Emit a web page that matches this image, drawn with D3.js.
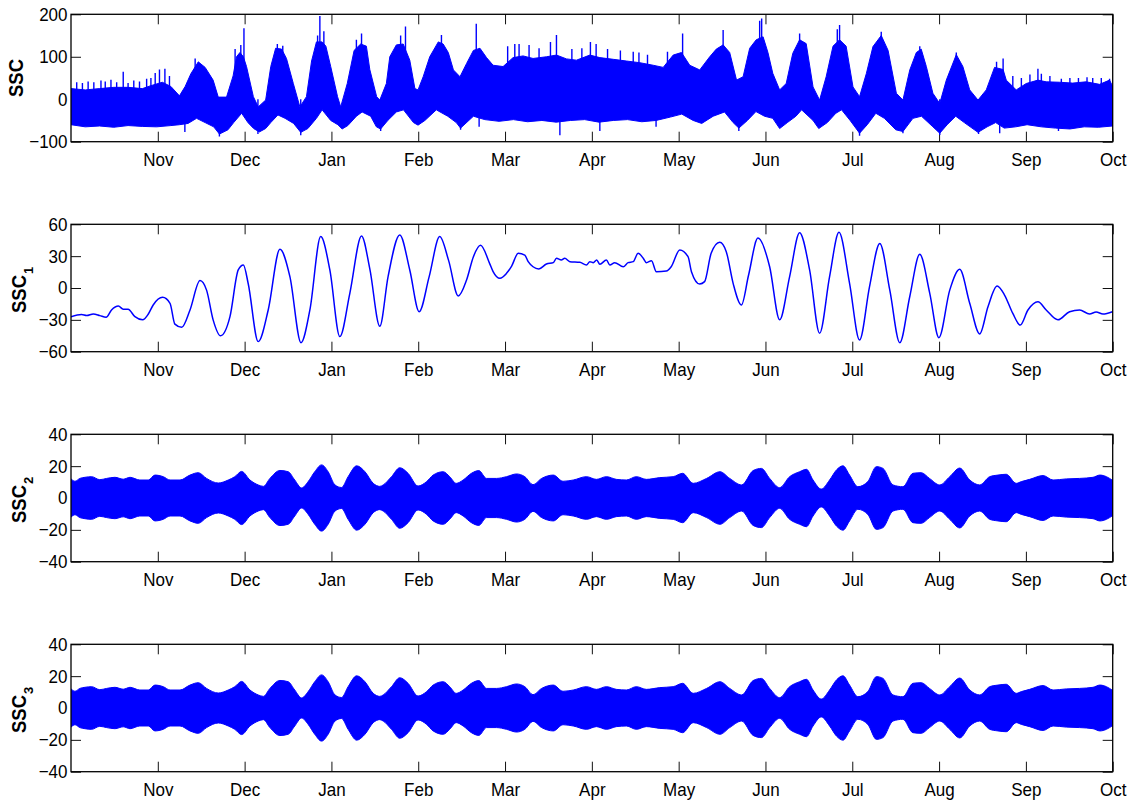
<!DOCTYPE html>
<html>
<head>
<meta charset="utf-8">
<script src="https://cdn.jsdelivr.net/npm/d3@7"></script>
<style>
  body { margin: 0; background: #fff; }
  svg text { font-family: "Liberation Sans", Arial, Helvetica, sans-serif; }
</style>
</head>
<body>
<svg id="chart" width="1137" height="802"></svg>
<script>
// Month labels for the tick marks (one per month boundary after the start in October)
const monthLabels = ["Nov", "Dec", "Jan", "Feb", "Mar", "Apr", "May", "Jun", "Jul", "Aug", "Sep", "Oct"];

// Y tick values for each panel
const sscTicks = [-100, 0, 100, 200];
const ssc1Ticks = [-60, -30, 0, 30, 60];
const ssc2Ticks = [-40, -20, 0, 20, 40];
const ssc3Ticks = [-40, -20, 0, 20, 40];

// ssc: raw series, drawn as its upper / lower envelope [day since 1 Oct, value]
const sscUpper = [[0,25],[5,22],[10,25],[15,28],[20,28],[25,25],[28,32],[32,40],[35,30],[38,8],[40,30],[42,60],[44.6,88],[47,75],[49.8,45],[51.6,5],[54.5,5],[56.8,55],[58,100],[59.2,110],[60.4,100],[61.5,77],[63.9,6],[65.6,-18],[68.2,-2],[70,77],[71.7,120],[73.8,118],[75.5,96],[77.9,37],[80.2,-18],[82.5,6],[84.3,90],[86,135],[88,135],[89.3,125],[91,77],[93.4,6],[94.5,-18],[96.8,37],[99.2,115],[101.5,130],[103.5,125],[104.7,70],[107.1,6],[108.2,-2],[110.5,37],[111.7,100],[114,128],[116.4,130],[118.7,92],[120.5,25],[121.6,22],[123.4,53],[125.7,100],[128.7,135],[130.4,130],[132.2,110],[134,69],[136.3,53],[138.6,84],[141,115],[143.3,120],[145.6,98],[147.9,80],[151.4,77],[154.9,98],[158.4,102],[161.9,96],[166.6,100],[170.1,104],[173.6,95],[177.1,92],[181.8,104],[185.3,98],[190,94],[194.6,90],[199.3,86],[204,80],[207.5,75],[211,104],[213.9,110],[216.8,80],[220.3,69],[223.8,100],[226.1,118],[228.5,128],[230.8,110],[233.2,45],[235.5,53],[237.8,120],[240.1,140],[242.5,147],[244.2,110],[245.9,61],[248.3,22],[250.6,37],[252.9,108],[255.3,140],[257.6,131],[260,29],[262.3,-2],[264.6,53],[267,125],[269.3,140],[271.6,125],[274,29],[276.3,6],[278.7,61],[281,124],[283.9,150],[286.3,115],[289.2,14],[291.5,-2],[293.9,69],[296.2,110],[297.9,118],[299.7,77],[302,14],[304.4,-10],[306.7,45],[310.2,105],[312.5,77],[314.9,22],[317.8,-2],[320.7,22],[323.6,75],[326.6,70],[327.7,45],[331.2,22],[334.7,37],[338.8,45],[341.7,41],[346.4,40],[351,38],[355.7,41],[360.4,35],[363.9,45],[365,30]];
const sscLower = [[0,-60],[5,-65],[10,-63],[15,-66],[20,-62],[25,-64],[30,-65],[35,-62],[38,-60],[41,-57],[44,-45],[47,-55],[50,-65],[52,-82],[55,-72],[57,-55],[59.8,-33],[62,-55],[64,-69],[66,-77],[68.2,-69],[70,-55],[72.5,-37],[75,-45],[78,-57],[80.5,-78],[83,-69],[86,-45],[88,-25],[91,-50],[93.5,-60],[95,-70],[97,-62],[100,-40],[102,-30],[105,-40],[107,-65],[108.5,-70],[111,-50],[114,-30],[116.5,-25],[120,-55],[121.6,-61],[124,-50],[128,-25],[132,-40],[135,-55],[136.5,-68],[141,-40],[145,-48],[150,-52],[155,-48],[160,-53],[165,-50],[170,-54],[175,-50],[180,-48],[185,-54],[190,-50],[195,-48],[200,-53],[205,-50],[210,-42],[214,-35],[218,-50],[221,-57],[225,-40],[229,-30],[232,-55],[234,-68],[237,-50],[240,-29],[243,-40],[245.9,-45],[248.3,-69],[251,-55],[254,-40],[256,-25],[260,-50],[262,-69],[265,-55],[268,-33],[270,-25],[273,-50],[276.3,-80],[279,-60],[282,-33],[285,-45],[289,-72],[291.5,-76],[295,-45],[298,-40],[302,-65],[304.4,-80],[307,-60],[310,-40],[313,-55],[317.8,-78],[321,-65],[324,-55],[327,-68],[331,-65],[335,-60],[340,-65],[345,-68],[350,-70],[355,-65],[360,-66],[365,-63]];
// isolated extreme samples of ssc that stick out of the envelope
const sscSpikes = [[2,40],[4,38],[6,42],[8,40],[10.5,44],[12,42],[14,46],[16,40],[18.3,65],[20,38],[22,44],[24,42],[26.5,48],[28,50],[29.5,62],[31,70],[32.9,72],[34.5,55],[43.5,96],[57.5,118],[59.5,128],[60.6,167],[72.3,130],[74.2,126],[86.4,150],[87.2,196],[88.6,160],[100,140],[101.8,155],[115.5,150],[117.2,171],[129.8,151],[142,178],[153,125],[155.5,130],[157,130],[160.5,128],[164,120],[168,135],[170.1,151],[175.5,118],[179,120],[182,135],[184,130],[188,118],[192.5,115],[197,112],[199,110],[202,105],[209,112],[214.3,155],[228.5,163],[241.3,185],[242,190],[255.3,155],[268.5,165],[269.3,175],[283.9,159],[297.4,125],[310.2,110],[324.3,88],[326.6,96],[330,55],[333,50],[336,58],[338.8,72],[340,60],[343,55],[347,48],[350,50],[353,50],[356,52],[358,50],[361,50],[363.9,48],[39.9,-77],[52,-88],[65.5,-82],[80.5,-85],[108.5,-75],[136.5,-72],[143,-65],[171.3,-85],[185.3,-75],[205,-65],[234,-75],[276.3,-86],[291.5,-80],[304.4,-84],[318,-82],[325.4,-80],[346,-75]];

// ssc1: low-frequency component [day since 1 Oct, value]
const ssc1 = [[0,-27],[3.7,-25],[5.5,-26],[7.8,-24.5],[10.1,-26],[12.3,-27.6],[14.2,-20.7],[16.6,-17],[18.3,-20],[20,-20],[22.4,-27],[25.1,-30],[27.1,-24.5],[28.8,-16],[32.1,-8.8],[34.7,-14.4],[36.4,-34],[38.8,-37],[41.7,-20.7],[45.2,7],[47.5,-2],[49.8,-30],[52.4,-45],[55.7,-27],[58.6,17],[60.4,21.7],[62.1,4],[65.6,-50.5],[69.1,-20.7],[73.2,36.4],[76.7,10.7],[80.6,-51.5],[83.7,-20.7],[87.5,48.4],[90.7,17],[94.2,-45.8],[97.7,-5],[101.8,49],[104.7,18],[108.2,-36],[111.1,10.7],[115.2,50],[118.7,17],[122,-22.3],[125.5,10.7],[129.2,48.4],[132.3,26],[135.7,-7.5],[138.6,7.5],[141,29.5],[143.5,40.2],[146.7,23],[147.9,15.4],[150.3,9.1],[152.6,13.8],[154.4,20.7],[156.7,32.7],[159,31],[160.2,24.8],[161.9,20],[163.9,17.9],[166.6,22.6],[169,23.9],[170.1,28],[171.8,26.4],[173,28],[174.8,24.8],[178.3,24.2],[180.6,21.7],[181.8,24.8],[183,23.9],[184.2,26.4],[185.3,22.3],[187.6,26.4],[188.8,21.7],[190.5,23.9],[193.5,20],[195.2,23.9],[197,24.8],[198.7,32.7],[200.5,28],[201.6,23.9],[203.4,25.7],[205.1,15.4],[208.6,16],[210.3,20],[213.3,35.8],[216.2,29.5],[217.4,15.4],[220.3,3.8],[222,6],[224.3,32.7],[227.3,43],[229.6,34.2],[232,4.4],[234.9,-16],[237.4,12],[240.7,47],[244.8,20],[248.3,-30],[251.8,10.7],[255.3,52],[258.8,17],[262.3,-42.7],[265.8,10.7],[269.1,52.4],[272.8,4.4],[276.3,-49],[279.8,1.3],[283.4,42],[286.9,-2],[290.4,-51.5],[293.9,-8],[297.4,31.7],[300.9,-5],[304.1,-46.8],[307.9,-2],[311.4,17.6],[314.9,-14.4],[318.4,-43.3],[321.3,-17.6],[324.5,1.9],[327.1,-6.6],[330,-23.9],[332.6,-34.9],[335.3,-20.7],[338.8,-12.9],[341.7,-20.7],[345.8,-30],[349.9,-22.3],[353.4,-20.7],[356.9,-24.5],[359.2,-22.6],[361.6,-24.5],[364.9,-22.3]];

// ssc2 / ssc3: fast oscillating components, given as their amplitude envelope [day, amplitude]
const ssc2Envelope = [[0,12],[1.4,10.5],[3.1,12.3],[4.9,13],[7.2,13.4],[10.1,11.5],[12.5,12.3],[15.4,13],[18.3,11.8],[20.7,13],[24.1,11.3],[27.1,11.3],[29.4,14.4],[32.3,13.4],[34.7,11.3],[38.2,11.3],[41.7,14.4],[44.6,15.9],[47.5,12.3],[51.6,9.4],[55.1,11.3],[57.4,13.4],[59.8,16.7],[62.7,11.3],[65.6,8.2],[67.4,7.3],[69.7,12.3],[73.2,17.3],[76.1,16.5],[78.4,11.3],[80.8,6.3],[83.1,10.3],[85.4,16.5],[87.8,20.8],[90.1,16.5],[92.5,8.2],[94.8,6.6],[97.1,13.4],[100.1,20.2],[103,16.5],[105.9,9.2],[108.2,7.3],[109.4,8.2],[112.3,13.4],[115.2,19],[118.1,15.5],[121.6,7.5],[124.6,10.3],[126.9,14.4],[130.4,16.5],[132.7,13.4],[135,9.2],[137.4,11.3],[140.3,15.5],[142.9,17.2],[145.6,12.3],[149.1,12.3],[152.6,13.4],[156.1,15.1],[159,13.4],[161.9,8.4],[164.9,12.3],[169,14.4],[172.4,10.5],[176,11.3],[180.6,13.4],[184.1,11.7],[187.6,13.4],[191.1,11.7],[194.6,11.3],[198.1,13.4],[201.6,11.7],[206.3,12.8],[211,13.4],[214.3,15.5],[218,9.2],[222.7,12.3],[227.4,16.5],[230.8,12.3],[235,8.2],[239,17.2],[241.9,18.6],[244.8,12.3],[248.3,6.5],[251.8,13.4],[255.3,16.5],[257.7,18],[260,11.3],[262.9,5.6],[265.8,11.3],[268.2,17.6],[270.5,20.2],[272.8,14.4],[275.7,7.1],[279.2,10.3],[282.2,19.7],[284.5,18.6],[288,8.2],[291.5,7.1],[295,15.5],[297.9,15.9],[300.8,12.3],[304.4,8.2],[307.9,13.4],[311.4,18.8],[314.9,11.3],[318.4,8.2],[321.9,13.4],[324.8,14.4],[327.7,14.9],[331.2,9.2],[333,10.3],[335.9,11.7],[340.6,14.1],[344.1,11.3],[348.8,12],[353.4,12.3],[358.1,13],[360.5,14.4],[362.8,13.4],[365,11]];
const ssc3Envelope = [[0,12],[1.4,10.5],[3.1,12.3],[4.9,13],[7.2,13.4],[10.1,11.5],[12.5,12.3],[15.4,13],[18.3,11.8],[20.7,13],[24.1,11.3],[27.1,11.3],[29.4,14.4],[32.3,13.4],[34.7,11.3],[38.2,11.3],[41.7,14.4],[44.6,15.9],[47.5,12.3],[51.6,9.4],[55.1,11.3],[57.4,13.4],[59.8,16.7],[62.7,11.3],[65.6,8.2],[67.4,7.3],[69.7,12.3],[73.2,17.3],[76.1,16.5],[78.4,11.3],[80.8,6.3],[83.1,10.3],[85.4,16.5],[87.8,20.8],[90.1,16.5],[92.5,8.2],[94.8,6.6],[97.1,13.4],[100.1,20.2],[103,16.5],[105.9,9.2],[108.2,7.3],[109.4,8.2],[112.3,13.4],[115.2,19],[118.1,15.5],[121.6,7.5],[124.6,10.3],[126.9,14.4],[130.4,16.5],[132.7,13.4],[135,9.2],[137.4,11.3],[140.3,15.5],[142.9,17.2],[145.6,12.3],[149.1,12.3],[152.6,13.4],[156.1,15.1],[159,13.4],[161.9,8.4],[164.9,12.3],[169,14.4],[172.4,10.5],[176,11.3],[180.6,13.4],[184.1,11.7],[187.6,13.4],[191.1,11.7],[194.6,11.3],[198.1,13.4],[201.6,11.7],[206.3,12.8],[211,13.4],[214.3,15.5],[218,9.2],[222.7,12.3],[227.4,16.5],[230.8,12.3],[235,8.2],[239,17.2],[241.9,18.6],[244.8,12.3],[248.3,6.5],[251.8,13.4],[255.3,16.5],[257.7,18],[260,11.3],[262.9,5.6],[265.8,11.3],[268.2,17.6],[270.5,20.2],[272.8,14.4],[275.7,7.1],[279.2,10.3],[282.2,19.7],[284.5,18.6],[288,8.2],[291.5,7.1],[295,15.5],[297.9,15.9],[300.8,12.3],[304.4,8.2],[307.9,13.4],[311.4,18.8],[314.9,11.3],[318.4,8.2],[321.9,13.4],[324.8,14.4],[327.7,14.9],[331.2,9.2],[333,10.3],[335.9,11.7],[340.6,14.1],[344.1,11.3],[348.8,12],[353.4,12.3],[358.1,13],[360.5,14.4],[362.8,13.4],[365,11]];

// ---------- layout ----------
const plotLeft = 71, plotRight = 1112.7;
const plotH = 127.4, firstTop = 14.3, panelStep = 210;
const blue = "#0000ff";
const baseFont = 17, tallFont = 18.5;   // tick labels: tall glyphs at the width of the base size

const svg = d3.select("#chart");
const x = d3.scaleLinear().domain([0, 365]).range([plotLeft, plotRight]);
const monthPos = d3.range(1, 13).map(m => m * 365 / 12);
const fmtY = d => d < 0 ? "\u2212" + Math.abs(d) : String(d);

const panels = [
  { domain: [-100, 200], ticks: sscTicks,  label: "SSC", sub: null, labelX: 23,   shift: 0 },
  { domain: [-60, 60],   ticks: ssc1Ticks, label: "SSC", sub: "1",  labelX: 25.5, shift: 6 },
  { domain: [-40, 40],   ticks: ssc2Ticks, label: "SSC", sub: "2",  labelX: 25.5, shift: 6 },
  { domain: [-40, 40],   ticks: ssc3Ticks, label: "SSC", sub: "3",  labelX: 25.5, shift: 6 }
];

const styleAxis = sel => {
  sel.attr("font-size", baseFont).attr("font-family", null);
  sel.select(".domain").remove();
  sel.selectAll(".tick line").attr("stroke", "#111").attr("stroke-width", 1);
  sel.selectAll(".tick text").attr("fill", "#000").each(function () {
    const w = this.getComputedTextLength();
    if (w > 0) {
      d3.select(this).attr("font-size", tallFont)
        .attr("textLength", w).attr("lengthAdjust", "spacingAndGlyphs");
    }
  });
};

panels.forEach((p, i) => {
  const top = firstTop + i * panelStep;
  const bottom = top + plotH;
  const y = d3.scaleLinear().domain(p.domain).range([bottom, top]);
  const g = svg.append("g");

  // inward ticks on all four sides, labels on bottom and left only
  g.append("g").attr("transform", `translate(0,${bottom})`)
    .call(d3.axisBottom(x).tickValues(monthPos).tickFormat((d, k) => monthLabels[k])
      .tickSizeInner(-10).tickSizeOuter(0).tickPadding(11))
    .call(styleAxis);
  g.append("g").attr("transform", `translate(0,${top})`)
    .call(d3.axisTop(x).tickValues(monthPos).tickFormat("")
      .tickSizeInner(-10).tickSizeOuter(0))
    .call(styleAxis);
  g.append("g").attr("transform", `translate(${plotLeft},0)`)
    .call(d3.axisLeft(y).tickValues(p.ticks).tickFormat(fmtY)
      .tickSizeInner(-10).tickSizeOuter(0).tickPadding(3.5))
    .call(styleAxis);
  g.append("g").attr("transform", `translate(${plotRight},0)`)
    .call(d3.axisRight(y).tickValues(p.ticks).tickFormat("")
      .tickSizeInner(-10).tickSizeOuter(0))
    .call(styleAxis);

  // clip region for the data
  const clipId = "clip" + i;
  svg.append("clipPath").attr("id", clipId)
    .append("rect").attr("x", plotLeft).attr("y", top)
    .attr("width", plotRight - plotLeft).attr("height", plotH);
  const data = g.append("g").attr("clip-path", `url(#${clipId})`);

  if (i === 0) {
    const edge = d3.line().x(d => x(d[0])).y(d => y(d[1]));
    data.append("path")
      .attr("d", edge(sscUpper.concat(sscLower.slice().reverse())) + "Z")
      .attr("fill", blue).attr("stroke", blue).attr("stroke-width", 1);
    data.selectAll("line.spike").data(sscSpikes).join("line")
      .attr("class", "spike")
      .attr("x1", d => x(d[0])).attr("x2", d => x(d[0]))
      .attr("y1", y(0)).attr("y2", d => y(d[1]))
      .attr("stroke", blue).attr("stroke-width", 1.4);
  } else if (i === 1) {
    const line = d3.line().x(d => x(d[0])).y(d => y(d[1])).curve(d3.curveMonotoneX);
    data.append("path").attr("d", line(ssc1))
      .attr("fill", "none").attr("stroke", blue).attr("stroke-width", 1.5);
  } else {
    const env = i === 2 ? ssc2Envelope : ssc3Envelope;
    const band = d3.area().x(d => x(d[0])).y0(d => y(-d[1])).y1(d => y(d[1]))
      .curve(d3.curveMonotoneX);
    data.append("path").attr("d", band(env))
      .attr("fill", blue).attr("stroke", blue).attr("stroke-width", 1);
  }

  // axes box
  g.append("rect").attr("x", plotLeft).attr("y", top)
    .attr("width", plotRight - plotLeft).attr("height", plotH)
    .attr("fill", "none").attr("stroke", "#000").attr("stroke-width", 1.3);

  // y label (rotated), subscript placed after the main letters
  const lg = g.append("g")
    .attr("transform", `translate(${p.labelX},${(top + bottom) / 2 + p.shift}) rotate(-90)`);
  lg.append("text")
    .attr("text-anchor", "middle").attr("font-weight", "bold")
    .attr("font-size", 21).attr("fill", "#000")
    .attr("textLength", 38).attr("lengthAdjust", "spacingAndGlyphs")
    .text(p.label);
  if (p.sub) {
    lg.append("text")
      .attr("x", 20).attr("y", 7)
      .attr("font-weight", "bold").attr("font-size", 13).attr("fill", "#000")
      .text(p.sub);
  }
});
</script>
</body>
</html>
